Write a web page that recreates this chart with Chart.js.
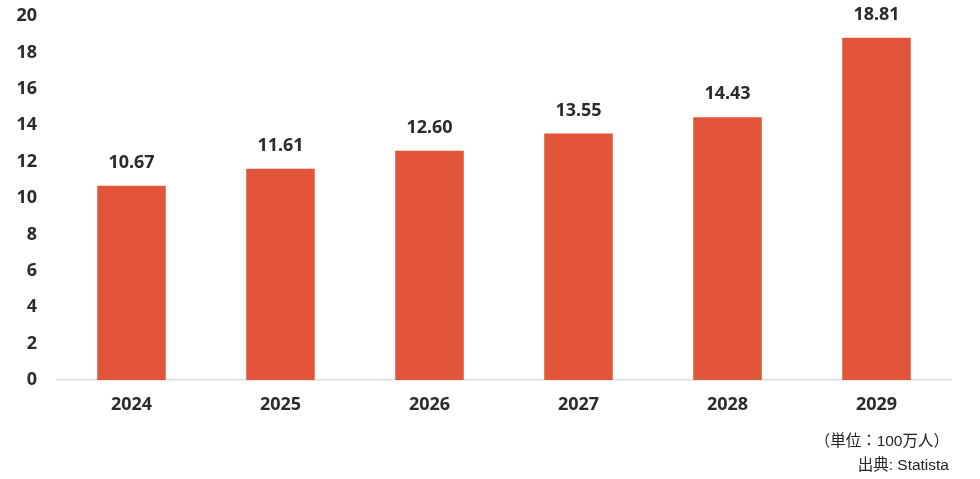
<!DOCTYPE html>
<html lang="ja">
<head>
    <meta charset="UTF-8">
    <script src="https://cdn.jsdelivr.net/npm/chart.js"></script>
    <title>Statista</title>
    <style>
        body { margin: 0; background: #fff; }
        #wrap { position: relative; width: 980px; height: 479px; }
        .note {
            position: absolute;
            right: 31px;
            font-family: "Liberation Sans", "Noto Sans CJK JP", sans-serif;
            font-size: 15.5px;
            color: #222;
            text-align: right;
            white-space: nowrap;
        }
    </style>
</head>
<body>
    <div id="wrap">
        <canvas id="chart" width="980" height="479"></canvas>
        <div class="note" style="top:428px;">（単位：100万人）</div>
        <div class="note" style="top:452px;">出典: Statista</div>
    </div>
    <script>
        const years = ['2024', '2025', '2026', '2027', '2028', '2029'];
        const users = [10.67, 11.61, 12.60, 13.55, 14.43, 18.81];
        const yTicks = [0, 2, 4, 6, 8, 10, 12, 14, 16, 18, 20];

        const textFont = { family: '"Noto Sans", sans-serif', size: 18, weight: 'bold' };

        // draws value labels above each bar
        const valueLabels = {
            id: 'valueLabels',
            afterDatasetsDraw(chart) {
                const ctx = chart.ctx;
                const meta = chart.getDatasetMeta(0);
                ctx.save();
                ctx.font = 'bold 18px "Noto Sans", sans-serif';
                ctx.fillStyle = '#2b2b2b';
                ctx.textAlign = 'center';
                ctx.textBaseline = 'middle';
                meta.data.forEach((bar, i) => {
                    ctx.fillText(users[i].toFixed(2), bar.x, bar.y - 23);
                });
                ctx.restore();
            }
        };

        new Chart(document.getElementById('chart').getContext('2d'), {
            type: 'bar',
            data: {
                labels: years,
                datasets: [{
                    data: users,
                    backgroundColor: '#e2553a',
                    categoryPercentage: 1,
                    barPercentage: 0.46
                }]
            },
            options: {
                responsive: false,
                animation: false,
                layout: { padding: { top: 16, right: 29, left: 0, bottom: 0 } },
                plugins: { legend: { display: false }, tooltip: { enabled: false } },
                scales: {
                    x: {
                        grid: { display: false, drawTicks: false },
                        border: { display: true, color: '#dcdcdc', width: 1.5 },
                        ticks: { color: '#2b2b2b', font: textFont, padding: 14 },
                        afterFit(scale) { scale.height = 99; }
                    },
                    y: {
                        min: 0,
                        max: 20,
                        afterBuildTicks(scale) { scale.ticks = yTicks.map(v => ({ value: v })); },
                        grid: { display: false, drawTicks: false },
                        border: { display: false },
                        ticks: { color: '#2b2b2b', font: textFont, padding: 20 },
                        afterFit(scale) {
                            scale.width = 57;
                            scale.paddingTop = 0;
                            scale.paddingBottom = 0;
                        }
                    }
                }
            },
            plugins: [valueLabels]
        });
    </script>
</body>
</html>
